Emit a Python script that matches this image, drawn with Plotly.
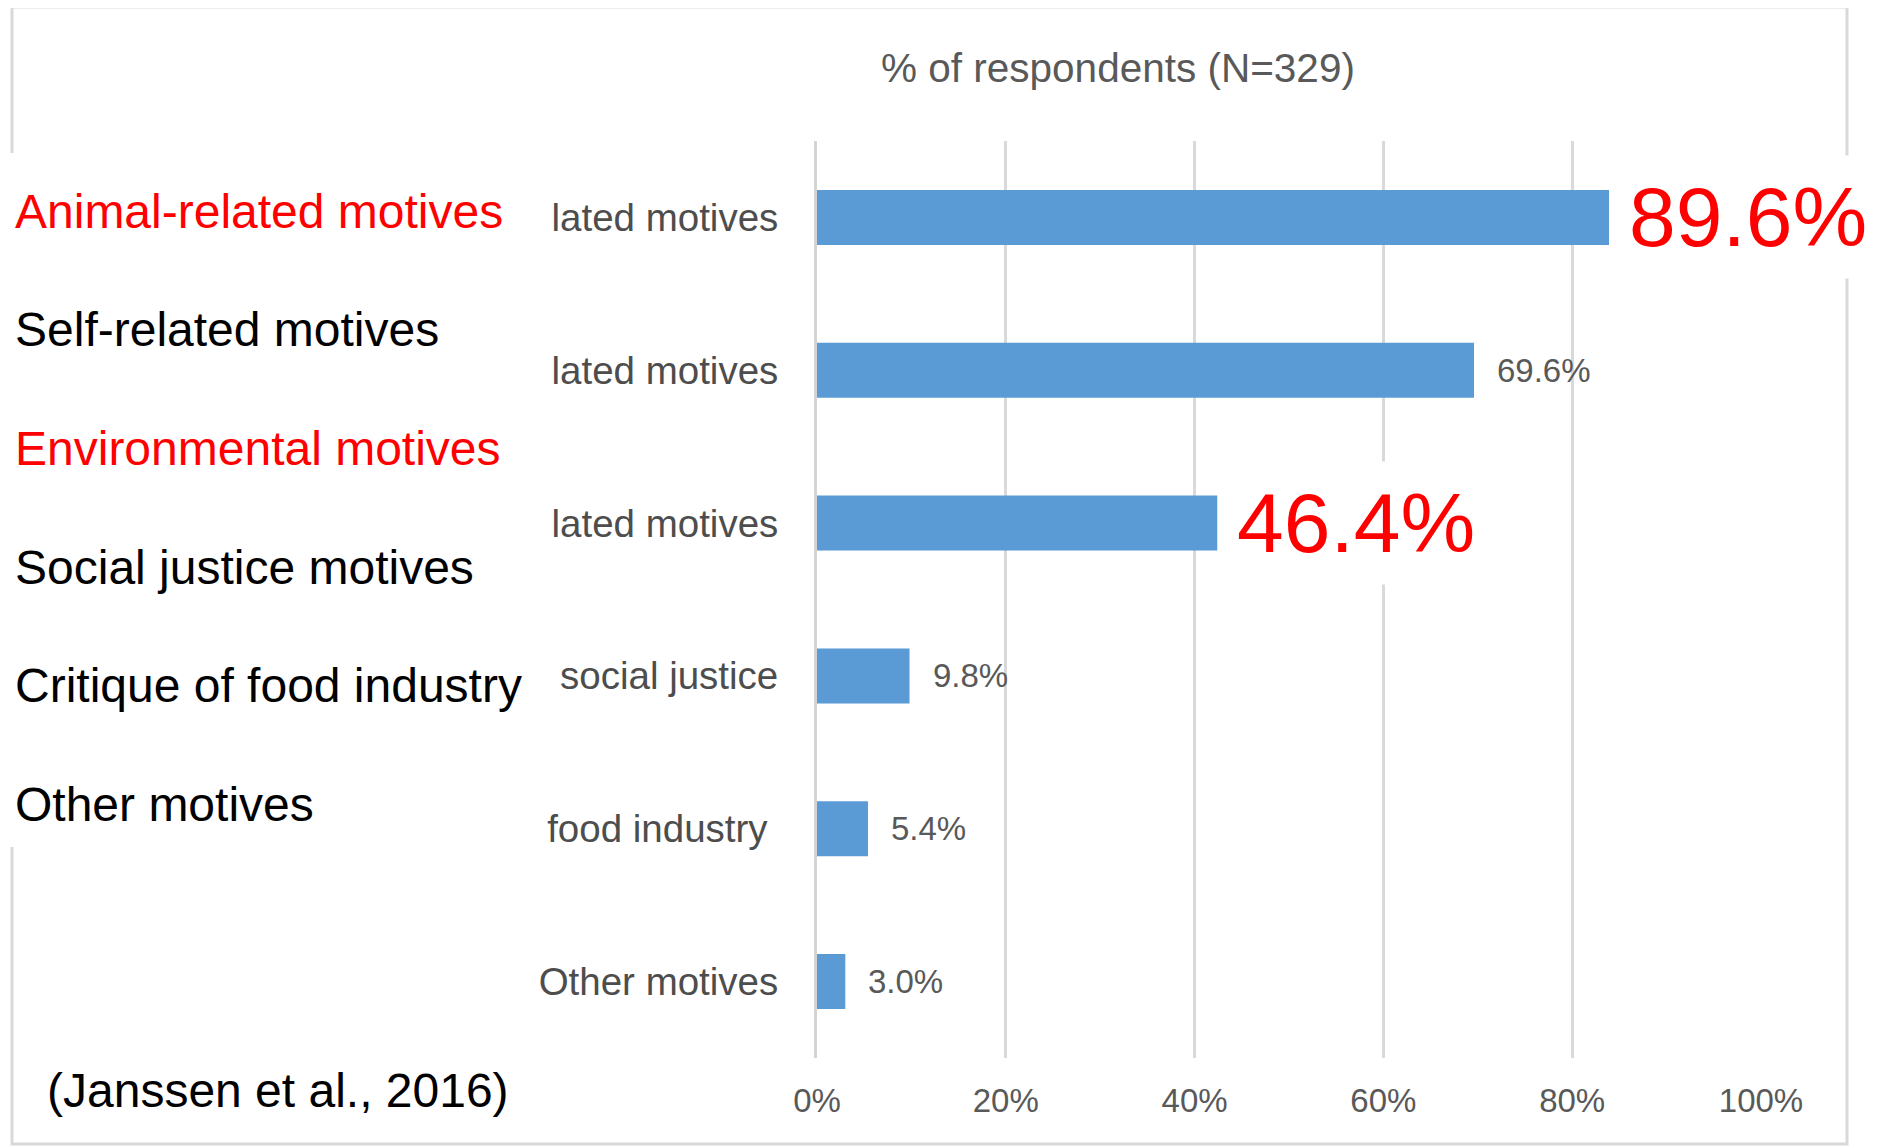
import plotly.graph_objects as go

# ---------------- data ----------------
categories = [
    "Animal-related motives",
    "Self-related motives",
    "Environment-related motives",
    "Motives related to social justice",
    "Critique of food industry",
    "Other motives",
]
# visible (cropped) tick labels as they appear in the picture
y_tick_labels = [
    "lated motives",
    "lated motives",
    "lated motives",
    "social justice",
    "food industry\u00a0",
    "Other motives",
]
bar_values = [83.9, 69.6, 42.4, 9.8, 5.4, 3.0]
value_labels = ["89.6%", "69.6%", "46.4%", "9.8%", "5.4%", "3.0%"]
highlighted = [True, False, True, False, False, False]

overlay_labels = [
    "Animal-related motives",
    "Self-related motives",
    "Environmental motives",
    "Social justice motives",
    "Critique of food industry",
    "Other motives",
]
overlay_red = [True, False, True, False, False, False]

x_tick_values = [0, 20, 40, 60, 80, 100]
x_tick_labels = ["0%", "20%", "40%", "60%", "80%", "100%"]

axis_title = "% of respondents (N=329)"
citation = "(Janssen et al., 2016)"

# ---------------- layout geometry (pixels of the page) ----------------
OFF = 8  # default body margin of the page
FIG_W, FIG_H = 1880 - OFF, 1146 - OFF
L, R, T, B = 817, 1761, 141, 1058
PW, PH = R - L, B - T


def px2x(p):
    return (p - L) / PW


def py2y(p):
    return (B - p) / PH


FONT = "Arial, Liberation Sans, sans-serif"
GREY = "#595959"

fig = go.Figure(
    go.Bar(
        y=categories,
        x=bar_values,
        orientation="h",
        marker=dict(color="#5b9bd5", line=dict(width=0)),
        hoverinfo="skip",
    )
)

annotations = []

# value labels next to bar ends
for cat, v, lab, hi in zip(categories, bar_values, value_labels, highlighted):
    if hi:
        annotations.append(dict(
            x=v, y=cat, xref="x", yref="y", text=lab, showarrow=False,
            xanchor="left", yanchor="middle", xshift=5,
            font=dict(family=FONT, size=84, color="#ff0000"),
            bgcolor="#ffffff", borderpad=14,
        ))
    else:
        annotations.append(dict(
            x=v, y=cat, xref="x", yref="y", text=lab, showarrow=False,
            xanchor="left", yanchor="middle", xshift=21,
            font=dict(family=FONT, size=33, color=GREY),
        ))

# overlay labels on the left
overlay_y = [211, 329, 448, 567, 685, 804]
for lab, red, yy in zip(overlay_labels, overlay_red, overlay_y):
    annotations.append(dict(
        x=px2x(13), y=py2y(yy), xref="paper", yref="paper", text=lab,
        showarrow=False, xanchor="left", yanchor="middle",
        font=dict(family=FONT, size=48, color="#ff0000" if red else "#000000"),
    ))

# axis title on top
annotations.append(dict(
    x=px2x(1118), y=py2y(68), xref="paper", yref="paper", text=axis_title,
    showarrow=False, xanchor="center", yanchor="middle",
    font=dict(family=FONT, size=40.5, color=GREY),
))

# citation
annotations.append(dict(
    x=px2x(45), y=py2y(1090), xref="paper", yref="paper", text=citation,
    showarrow=False, xanchor="left", yanchor="middle",
    font=dict(family=FONT, size=48, color="#000000"),
))

shapes = [
    # outer frame
    dict(type="rect", xref="paper", yref="paper",
         x0=px2x(12), x1=px2x(1847), y0=py2y(1144), y1=py2y(7),
         line=dict(color="#d9d9d9", width=3), fillcolor="rgba(0,0,0,0)",
         layer="below"),
    # white panel over the left part
    dict(type="rect", xref="paper", yref="paper",
         x0=px2x(0), x1=px2x(545), y0=py2y(847), y1=py2y(153),
         line=dict(width=0), fillcolor="#ffffff", layer="above"),
]

fig.update_layout(
    width=FIG_W, height=FIG_H, autosize=False,
    margin=dict(l=L - OFF, r=1880 - R, t=T - OFF, b=1146 - B, pad=0),
    paper_bgcolor="#ffffff", plot_bgcolor="#ffffff",
    bargap=0.64, showlegend=False,
    annotations=annotations, shapes=shapes,
    xaxis=dict(
        range=[0, 100], tickvals=x_tick_values, ticktext=x_tick_labels,
        showgrid=True, gridcolor="#d9d9d9", gridwidth=3,
        zeroline=False, showline=False, ticks="",
        tickfont=dict(family=FONT, size=33, color=GREY),
        ticklabelstandoff=20, fixedrange=True,
    ),
    yaxis=dict(
        autorange="reversed", showgrid=False, zeroline=False,
        tickmode="array", tickvals=categories, ticktext=y_tick_labels,
        showline=True, linecolor="#d4d4d4", linewidth=3, ticks="",
        tickfont=dict(family=FONT, size=38.5, color="#4d4d4d"),
        ticklabelstandoff=28, fixedrange=True,
    ),
)

fig.write_html("out.html")
